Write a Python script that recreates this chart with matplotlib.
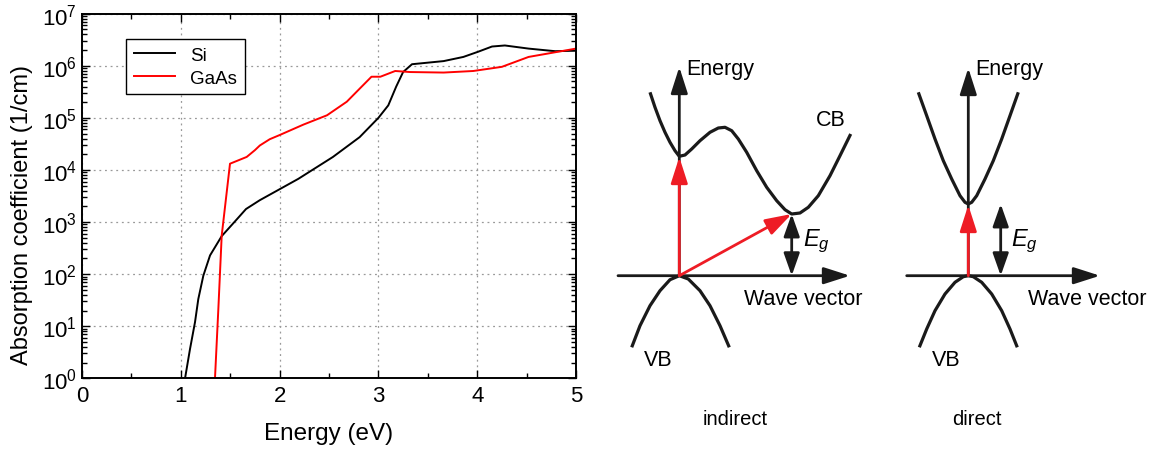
import matplotlib
matplotlib.use("Agg")
import matplotlib.pyplot as plt
import numpy as np
from matplotlib.ticker import LogLocator, MultipleLocator, NullFormatter

plt.rcParams["font.family"] = ["Liberation Sans", "DejaVu Sans"]
plt.rcParams["mathtext.fontset"] = "custom"
plt.rcParams["mathtext.rm"] = "Liberation Sans"
plt.rcParams["mathtext.it"] = "Liberation Sans:italic"

# --- absorption spectra (energy in eV, log10 alpha in 1/cm)
si_energy = [1.043, 1.093, 1.144, 1.177, 1.228, 1.296, 1.414, 1.566, 1.66, 1.80, 2.00,
             2.19, 2.54, 2.81, 3.00, 3.10, 3.18, 3.25, 3.34, 3.66, 3.86, 4.01, 4.15,
             4.28, 4.52, 4.79, 5.00]
si_logalpha = [0.0, 0.56, 1.08, 1.52, 1.97, 2.36, 2.73, 3.05, 3.25, 3.42, 3.63,
               3.83, 4.25, 4.63, 5.00, 5.24, 5.60, 5.88, 6.03, 6.09, 6.17, 6.27, 6.37,
               6.39, 6.33, 6.28, 6.29]
gaas_energy = [1.346, 1.38, 1.414, 1.498, 1.667, 1.75, 1.80, 1.90, 2.00, 2.24, 2.48,
               2.68, 2.81, 2.93, 3.02, 3.17, 3.32, 3.66, 3.96, 4.25, 4.52, 4.79, 5.00]
gaas_logalpha = [0.0, 1.33, 2.74, 4.12, 4.25, 4.38, 4.47, 4.59, 4.67, 4.87, 5.05,
                 5.31, 5.56, 5.79, 5.79, 5.90, 5.88, 5.87, 5.90, 5.98, 6.17, 6.26, 6.33]

# --- band-diagram sketches (figure pixel coordinates)
ind_cb_x = [650.0, 655.0, 660.0, 665.0, 670.0, 675.0, 679.3, 685.0, 691.7, 700.0, 710.0,
            718.3, 725.0, 731.7, 738.3, 746.7, 756.7, 766.7, 776.7, 785.0, 791.7, 800.0,
            808.3, 818.3, 830.0, 840.0, 850.7]
ind_cb_y = [93.3, 108.3, 121.7, 133.3, 143.3, 151.7, 157.3, 156.0, 150.0, 141.7, 133.3,
            129.0, 128.3, 131.7, 140.0, 153.3, 171.7, 188.3, 201.7, 210.7, 215.0, 214.0,
            208.3, 196.7, 176.7, 156.7, 135.0]
ind_vb_x = [631.7, 640.0, 650.0, 660.0, 670.0, 679.3, 688.3, 700.0, 710.0, 720.0, 729.3]
ind_vb_y = [348.3, 326.7, 306.7, 291.7, 280.7, 276.7, 280.0, 291.7, 306.7, 326.7, 348.3]
dir_cb_x = [918.3, 926.7, 935.0, 943.3, 951.7, 960.0, 965.0, 968.3, 971.7, 976.7, 985.0,
            993.3, 1001.7, 1010.0, 1018.3]
dir_cb_y = [93.3, 116.7, 140.0, 161.7, 180.0, 196.7, 203.3, 205.0, 203.3, 196.7, 180.0,
            161.7, 140.0, 116.7, 93.3]
dir_vb_x = [919.3, 926.7, 935.0, 945.0, 955.0, 963.3, 968.3, 973.3, 981.7, 991.7, 1001.7,
            1010.0, 1017.3]
dir_vb_y = [348.3, 330.0, 311.7, 295.0, 283.3, 277.7, 276.7, 277.7, 283.3, 295.0, 311.7,
            330.0, 348.3]

fig = plt.figure(figsize=(11.61, 4.52), dpi=100)

# ---------------- left: absorption coefficient ----------------
ax = fig.add_axes([82 / 1161, 72.7 / 452, 494 / 1161, 364.6 / 452])
ax.plot(si_energy, np.power(10.0, si_logalpha), color="black", lw=1.4, label="Si")
ax.plot(gaas_energy, np.power(10.0, gaas_logalpha), color="#ff0000", lw=1.4, label="GaAs")
ax.set_yscale("log")
ax.set_xlim(0, 5)
ax.set_ylim(1, 1e7)
ax.xaxis.set_major_locator(MultipleLocator(1))
ax.xaxis.set_minor_locator(MultipleLocator(0.5))
ax.yaxis.set_major_locator(LogLocator(base=10, numticks=10))
ax.yaxis.set_minor_locator(LogLocator(base=10, subs=np.arange(2, 10), numticks=100))
ax.yaxis.set_minor_formatter(NullFormatter())
ax.tick_params(which="both", direction="in", top=True, right=True, labelsize=16, width=1.0)
ax.tick_params(which="major", length=6)
ax.tick_params(which="minor", length=3.5)
ax.tick_params(axis="x", pad=5)
ax.grid(True, which="major", linestyle=(0, (1.5, 3)), color="#999999", lw=0.9)
for s in ax.spines.values():
    s.set_linewidth(1.4)
ax.set_xlabel("Energy (eV)", fontsize=17.5, labelpad=11)
ax.set_ylabel("Absorption coefficient (1/cm)", fontsize=17)
ax.yaxis.set_label_coords(-0.099, 0.45)
leg = ax.legend(loc="upper left", bbox_to_anchor=(0.09, 0.93), borderaxespad=0,
                fontsize=13.5, fancybox=False, edgecolor="black", framealpha=1,
                handlelength=2.2, borderpad=0.4, labelspacing=0.3)
leg.get_frame().set_linewidth(1.0)

# ---------------- right: band diagrams ----------------
ov = fig.add_axes([0, 0, 1, 1])
ov.set_xlim(0, 1161)
ov.set_ylim(452, 0)
ov.axis("off")
ov.patch.set_alpha(0)

band_kw = dict(color="#1a1a1a", lw=2.3, solid_capstyle="butt")
ov.plot(ind_cb_x, ind_cb_y, **band_kw)
ov.plot(ind_vb_x, ind_vb_y, **band_kw)
ov.plot(dir_cb_x, dir_cb_y, **band_kw)
ov.plot(dir_vb_x, dir_vb_y, **band_kw)


def arrow(x0, y0, x1, y1, color="#1a1a1a", style="-|>", hl=1.0, hw=0.32):
    ov.annotate("", xy=(x1, y1), xytext=(x0, y0),
                arrowprops=dict(arrowstyle=f"{style},head_length={hl},head_width={hw}",
                                color=color, lw=2.0, shrinkA=0, shrinkB=0,
                                mutation_scale=16))


red = "#ee1c25"
lab = 15.5
# indirect
arrow(679.3, 276.7, 679.3, 68)
arrow(618, 276.7, 850, 276.7)
arrow(679.3, 276.7, 679.3, 158, color=red)
arrow(679.3, 276.7, 791.7, 215, color=red)
arrow(791.7, 276.7, 791.7, 215, style="<|-|>", hl=0.85, hw=0.3)
ov.text(686, 70, "Energy", fontsize=lab, va="center", ha="left")
ov.text(816, 120, "CB", fontsize=lab, va="center", ha="left")
ov.text(803, 241, "$E_g$", fontsize=17, va="center", ha="left")
ov.text(744, 300, "Wave vector", fontsize=lab, va="center", ha="left")
ov.text(644, 361, "VB", fontsize=lab, va="center", ha="left")
ov.text(735.5, 420, "indirect", fontsize=14.5, va="center", ha="center")

# direct
arrow(968.3, 276.7, 968.3, 69)
arrow(906.7, 276.7, 1100, 276.7)
arrow(968.3, 276.7, 968.3, 206, color=red)
arrow(1000.7, 276.7, 1000.7, 205, style="<|-|>", hl=0.85, hw=0.3)
ov.text(975.7, 70, "Energy", fontsize=lab, va="center", ha="left")
ov.text(1011, 241, "$E_g$", fontsize=17, va="center", ha="left")
ov.text(1027.5, 300, "Wave vector", fontsize=lab, va="center", ha="left")
ov.text(932, 361, "VB", fontsize=lab, va="center", ha="left")
ov.text(976.7, 420, "direct", fontsize=14.5, va="center", ha="center")

fig.savefig("out.png", dpi=100)
